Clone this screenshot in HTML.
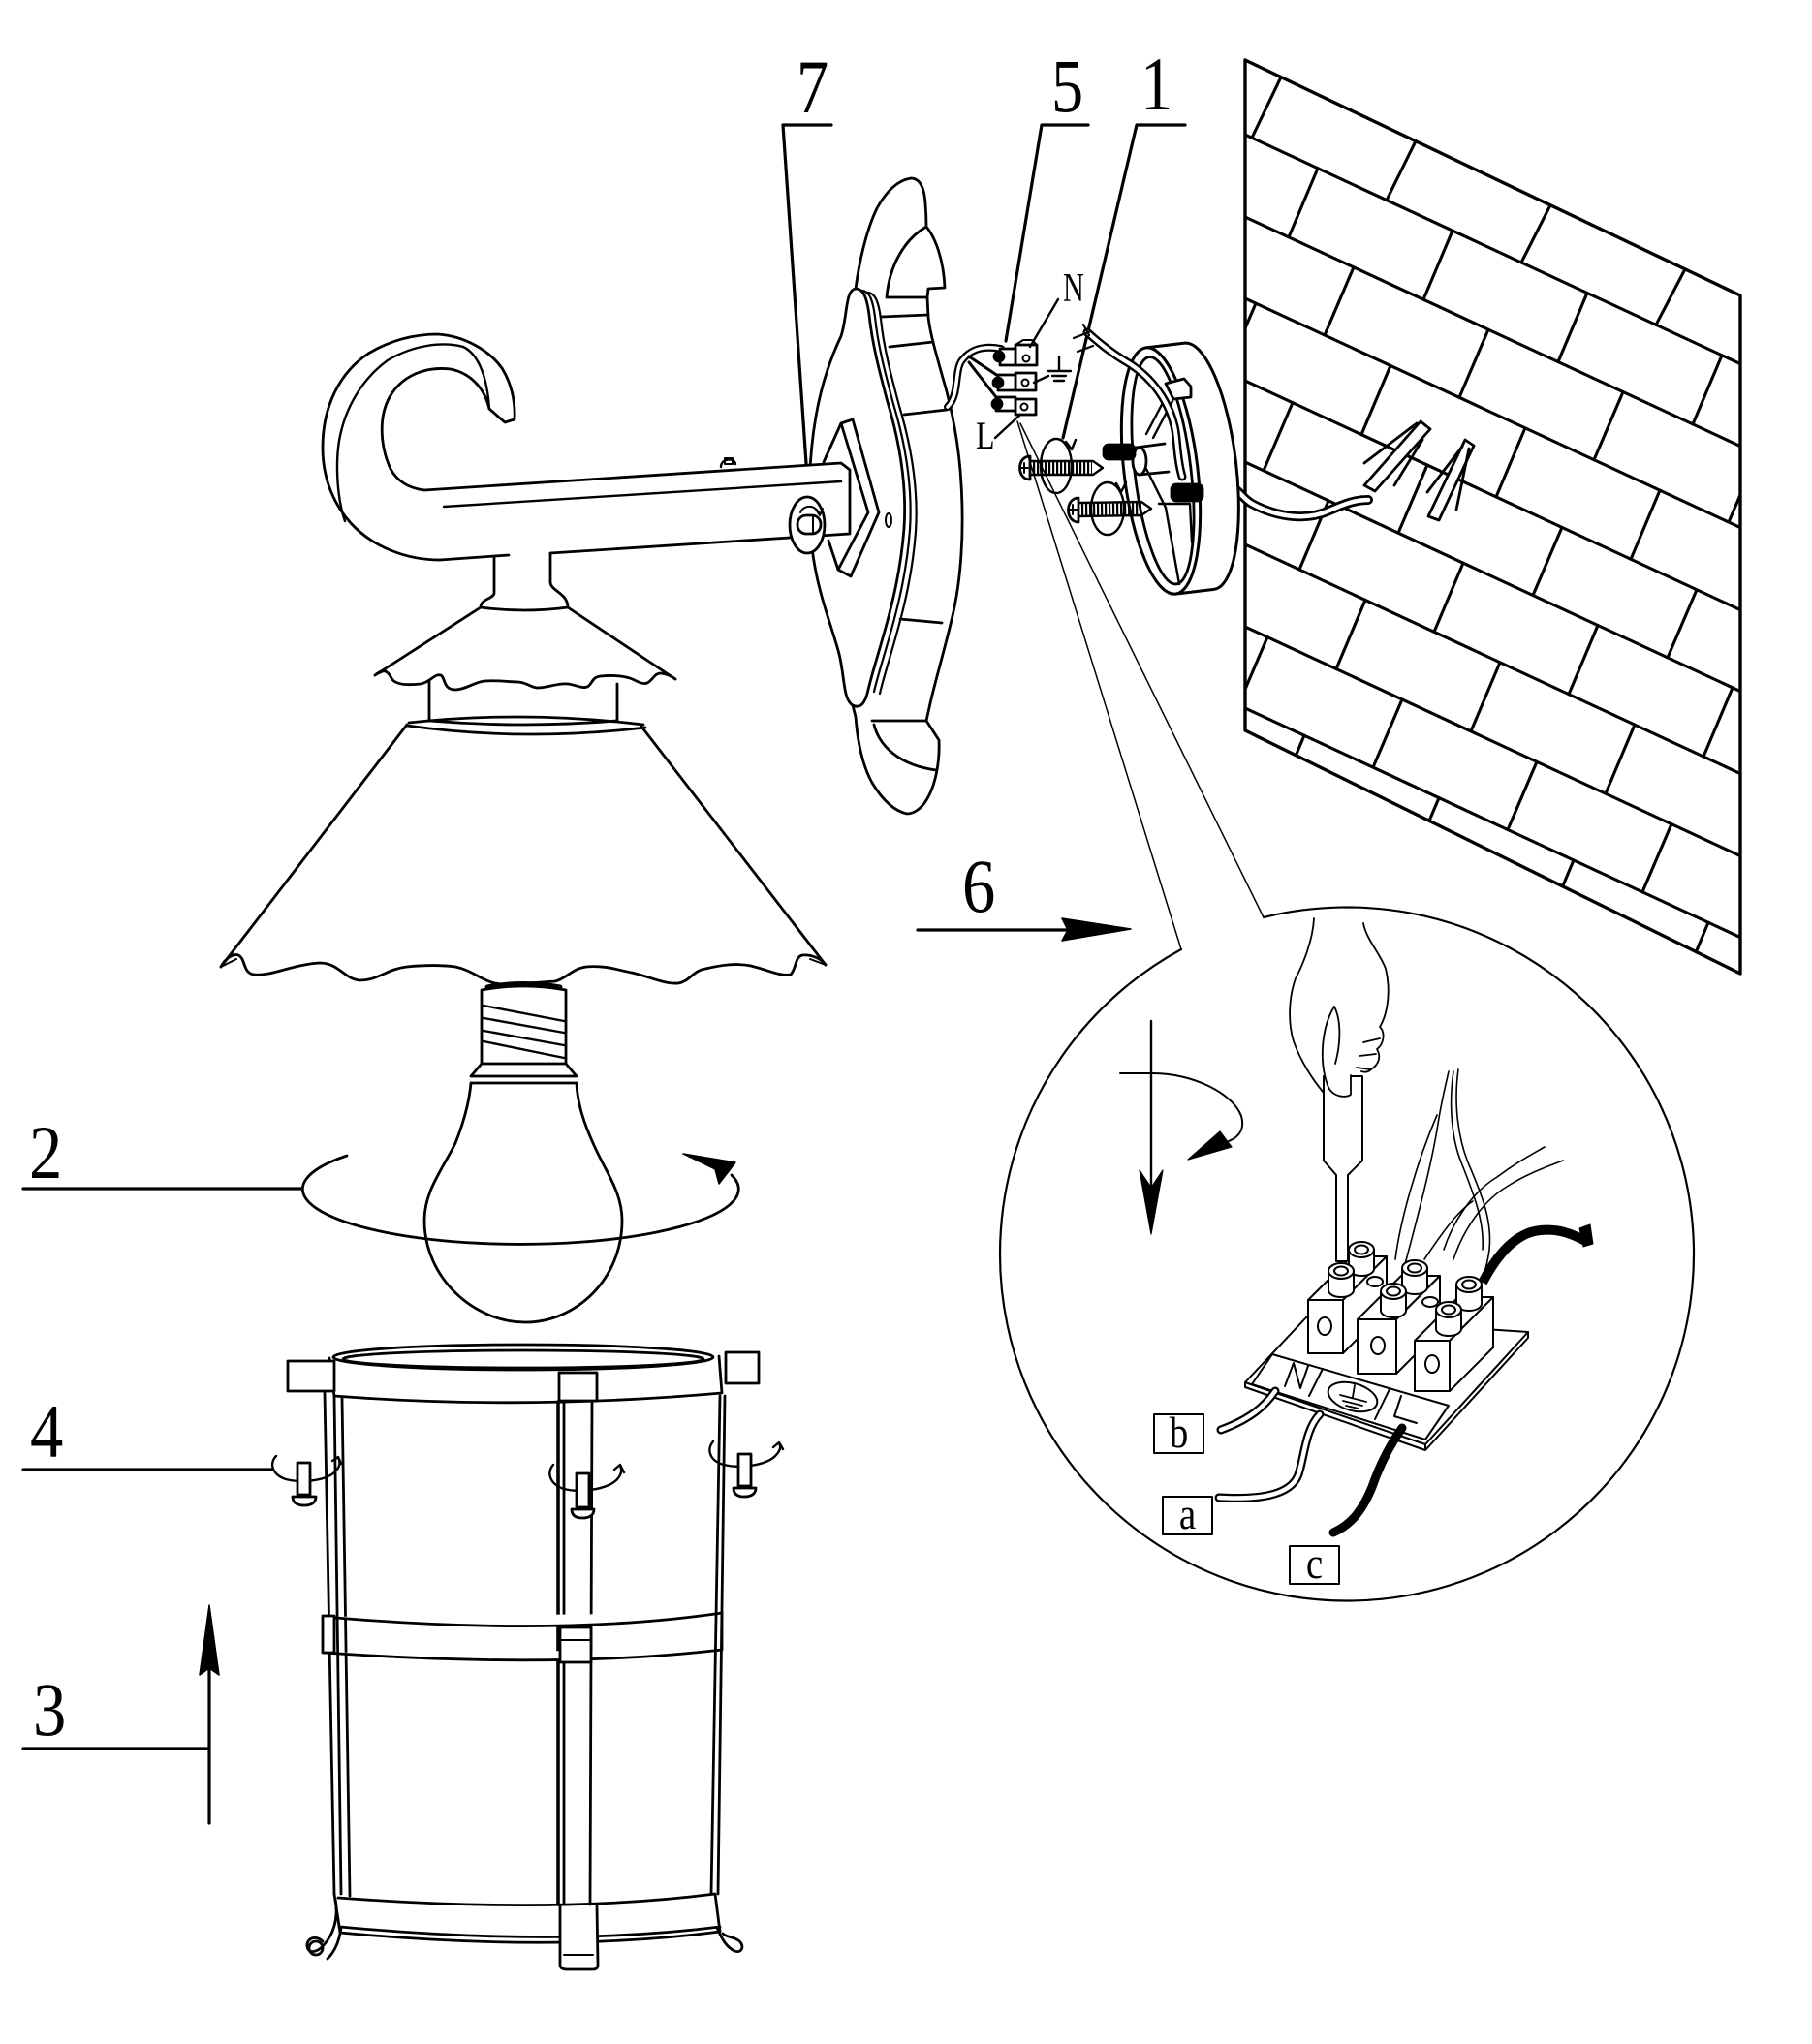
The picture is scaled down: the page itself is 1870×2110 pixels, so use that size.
<!DOCTYPE html>
<html><head><meta charset="utf-8">
<style>
html,body{margin:0;padding:0;background:#fff;}
svg{display:block;}
text{font-family:"Liberation Serif","DejaVu Serif",serif;fill:#000;stroke:none;}
</style></head><body>
<svg xmlns="http://www.w3.org/2000/svg" width="1870" height="2110" viewBox="0 0 1870 2110">
<defs>
<clipPath id="wc"><polygon points="1285,62 1796,305 1796,1005 1285,754"/></clipPath>
</defs>
<rect width="1870" height="2110" fill="#fff"/>
<g fill="none" stroke="#000" stroke-width="2.8" stroke-linecap="round" stroke-linejoin="round">

<!-- ===== Labels ===== -->
<text font-size="78" transform="translate(822,116) scale(0.85,1)">7</text>
<text font-size="78" transform="translate(1085,115) scale(0.85,1)">5</text>
<text font-size="78" transform="translate(1177,113) scale(0.85,1)">1</text>
<text font-size="78" transform="translate(30,1216) scale(0.88,1)">2</text>
<text font-size="78" transform="translate(31,1504) scale(0.88,1)">4</text>
<text font-size="78" transform="translate(34,1791) scale(0.88,1)">3</text>
<text font-size="78" transform="translate(993,941) scale(0.88,1)">6</text>

<g stroke-width="3.2">
<path d="M858,129 L808,129 L835,522"/>
<path d="M1123,129 L1075,129 L1038,352"/>
<path d="M1223,129 L1173,129 L1097,452"/>
<path d="M24,1227 L311,1227"/>
<path d="M24,1517 L281,1517"/>
<path d="M24,1805 L216,1805 M216,1882 L216,1715"/>
<path d="M947,960 L1100,960"/>
</g>
<polygon points="216,1657 206,1729 216,1722 226,1729" fill="#000" stroke-width="1.5"/>
<polygon points="1096,948 1167,959 1096,971 1102,960" fill="#000" stroke-width="1.5"/>

<!-- ===== Wall ===== -->
<polygon points="1285,62 1796,305 1796,1005 1285,754" stroke-width="3.4"/>
<g clip-path="url(#wc)" stroke-width="3.1">
<path d="M1285,139 L1796,375.6 M1285,224 L1796,460.6 M1285,308 L1796,544.6 M1285,393 L1796,629.6 M1285,477 L1796,713.6 M1285,562 L1796,798.6 M1285,647 L1796,883.6 M1285,731 L1796,967.6"/>
<path d="M1322,79.6 L1292,142.2 M1461,145.7 L1431,206.6 M1600,211.8 L1570,271 M1739,277.9 L1709,335.3"/>
<path d="M1360,173.7 L1330,244.8 M1499,238.1 L1469,309.2 M1638,302.4 L1608,373.5 M1777,366.8 L1747,437.9"/>
<path d="M1397,275.9 L1367,346 M1536,340.2 L1506,410.3 M1675,404.6 L1645,474.7 M1814,468.9 L1784,539"/>
<path d="M1296,313.1 L1266,383.6 M1435,377.5 L1405,448.6 M1574,441.8 L1544,512.9 M1713,506.2 L1683,577.3"/>
<path d="M1334,415.7 L1304,485.8 M1473,480 L1443,550.2 M1612,544.4 L1582,614.5 M1751,608.8 L1721,678.9"/>
<path d="M1371,516.8 L1341,587.9 M1510,581.2 L1480,652.3 M1649,645.5 L1619,716.6 M1788,709.9 L1758,781"/>
<path d="M1409,619.4 L1379,690.5 M1548,683.8 L1518,754.9 M1687,748.1 L1657,819.2"/>
<path d="M1308,657.6 L1278,727.8 M1447,722 L1417,792.1 M1586,786.4 L1556,856.5 M1725,850.7 L1695,920.8"/>
<path d="M1346,759.2 L1337.4,779.7 M1485,823.6 L1475,847.3 M1624,887.9 L1612.7,914.9 M1763,952.3 L1750.3,982.6"/>
</g>

<!-- cable into wall -->
<path d="M1276,506 C1282,511 1285,516 1292,520 C1320,535 1350,537 1372,527 C1390,519 1400,516 1412,516" stroke-width="10"/>
<path d="M1276,506 C1282,511 1285,516 1292,520 C1320,535 1350,537 1372,527 C1390,519 1400,516 1412,516" stroke="#fff" stroke-width="4.5"/>
<!-- wall plugs -->
<polygon points="1408,501 1419,507 1476,443 1466,435" fill="#fff"/>
<path d="M1408,478 L1462,437 M1439,501 L1468,454"/>
<polygon points="1474,533 1485,537 1521,460 1512,454" fill="#fff"/>
<path d="M1473,508 L1509,461 M1503,526 L1516,463"/>

<!-- ===== Ceiling plate (drum) ===== -->
<g transform="rotate(-6.8 1198 486)">
<path d="M1198,358 L1238,358 A38,128 0 0 1 1238,614 L1198,614" fill="#fff" stroke-width="3"/>
<ellipse cx="1198" cy="486" rx="38" ry="128" fill="#fff" stroke-width="3"/>
<ellipse cx="1200" cy="486" rx="29" ry="118"/>
</g>
<path d="M1183,448 L1203,410 M1190,452 L1210,414 M1183,484 L1203,524 L1217,603 M1196,520 L1228,520 L1230,560" stroke-width="2.4"/>
<path d="M1203,396 L1222,391 L1229,399 L1229,410 L1211,412 Z" fill="#fff"/>
<path d="M1172,462 L1202,458 M1176,490 L1206,487"/>
<ellipse cx="1176" cy="476" rx="7" ry="14" fill="#fff"/>
<rect x="1139" y="459" width="32" height="15" rx="5" fill="#000"/>
<rect x="1209" y="500" width="32" height="17" rx="5" fill="#000"/>
<!-- cable drum to terminal -->
<path d="M1220,492 C1214,472 1215,450 1212,440 C1205,410 1185,386 1160,372 C1145,363 1132,352 1122,343" stroke-width="9"/>
<path d="M1220,492 C1214,472 1215,450 1212,440 C1205,410 1185,386 1160,372 C1145,363 1132,352 1122,343" stroke="#fff" stroke-width="4"/>
<path d="M1108,349 L1126,342 M1112,363 L1128,357 M1118,335 L1124,346" stroke-width="2.2"/>

<!-- screws -->
<ellipse cx="1090" cy="481" rx="16" ry="28" stroke-width="2.4"/>
<path d="M1100,456 L1106,464 L1110,454" stroke-width="2.4"/>
<ellipse cx="1143" cy="525" rx="17" ry="27" stroke-width="2.4"/>
<path d="M1152,499 L1157,508 L1162,498" stroke-width="2.4"/>
<path d="M1066,483 L1127,483" stroke-width="14" stroke-dasharray="2.2 1.8" stroke-linecap="butt"/>
<path d="M1063,476 L1128,476 L1138,483 L1128,490 L1063,490" stroke-width="2.4"/>
<path d="M1063,471 C1049,471 1049,495 1063,495 Z" fill="#fff"/>
<path d="M1054,483 L1061,483 M1057,478 L1057,488" stroke-width="2"/>
<path d="M1116,526 L1178,525" stroke-width="14" stroke-dasharray="2.2 1.8" stroke-linecap="butt"/>
<path d="M1113,519 L1178,518 L1188,525 L1178,532 L1113,533" stroke-width="2.4"/>
<path d="M1113,514 C1099,514 1099,539 1113,539 Z" fill="#fff"/>
<path d="M1104,526 L1111,526 M1107,521 L1107,531" stroke-width="2"/>

<!-- ===== Backplate (7) ===== -->
<path d="M883,298 C886,275 893,240 905,215 C915,197 927,186 940,184 C950,184 954,195 955,210 C956,222 956,230 956,234 C966,246 974,270 975,297 L958,298 L957,307 L958,327 C960,345 966,365 973,390 C982,420 990,460 992,500 C995,550 992,600 982,640 C975,670 966,700 960,726 L956,744 L969,764 C970,785 966,810 956,826 C950,836 942,840 936,840 C925,838 912,828 900,808 C890,790 885,765 883,740 L880,728" fill="#fff"/>
<path d="M956,234 C935,246 918,272 915,307 L957,307"/>
<path d="M910,327 L958,325 M918,358 L963,353 M933,428 L977,423 M929,639 L972,643 M900,744 L956,744 M902,748 C908,772 930,790 966,795"/>
<path d="M883,298 C872,300 875,325 868,347 C858,368 848,395 842,430 C835,470 833,520 838,565 C843,610 858,645 866,675 C872,700 870,722 880,728 C888,732 893,726 896,712 C900,695 905,680 912,655 C922,620 930,585 933,545 C936,500 928,455 916,415 C908,385 900,355 897,325 C895,310 892,298 883,298 Z" fill="#fff"/>
<path d="M883,298 C892,298 895,310 897,325 C900,355 908,385 916,415 C928,455 936,500 933,545 C930,585 922,620 912,655 C905,680 900,695 896,712" transform="translate(6,2)" stroke-width="2.2"/>
<path d="M883,298 C892,298 895,310 897,325 C900,355 908,385 916,415 C928,455 936,500 933,545 C930,585 922,620 912,655 C905,680 900,695 896,712" transform="translate(12,4)" stroke-width="2.2"/>
<ellipse cx="917" cy="537" rx="3" ry="7" stroke-width="2"/>
<!-- chevron -->
<path d="M850,477 L868,437 M855,558 L865,588"/>
<polygon points="868,437 880,433 907,529 878,595 865,588 896,529" fill="#fff"/>

<!-- ===== Arm & hook ===== -->
<polygon points="700,489 868,478 877,485 877,551 700,562" fill="#fff" stroke="none"/>
<path d="M438,506 L868,478 L877,485 L877,551 L568,571"/>
<path d="M458,523 L868,497" stroke-width="2.4"/>
<path d="M454,578 L525,573"/>
<path d="M454,578 C420,578 385,565 362,540 C342,518 333,490 333,462 C333,420 350,385 380,365 C405,350 430,345 452,345 C480,347 505,362 518,380 C528,396 532,415 531,433 L521,436 L505,422"/>
<path d="M505,422 C500,400 485,385 465,381 C440,378 415,387 402,410 C390,432 393,462 403,484 C410,497 422,504 438,506"/>
<path d="M356,538 C348,515 346,480 350,455 C356,420 375,390 400,372 C425,357 455,352 478,358 C495,366 503,392 505,422" stroke-width="2.4"/>
<path d="M744,482 C744,473 758,472 759,479" stroke-width="2.4"/>
<rect x="748" y="473" width="8" height="6" stroke-width="2"/>
<!-- knob -->
<ellipse cx="833" cy="542" rx="18" ry="29" fill="#fff"/>
<rect x="823" y="532" width="24" height="19" rx="9" fill="#fff"/>
<path d="M839,532 L839,551" stroke-width="2"/>
<path d="M826,529 C830,520 842,521 846,531 M842,526 L846,532 L849,525" stroke-width="2"/>

<!-- stem & small shade -->
<path d="M510,576 L510,612 C510,618 496,618 496,627 M568,572 L568,601 C568,610 586,612 586,627 M496,627 Q541,633 586,627"/>
<path d="M496,627 L387,697 M586,627 L697,701"/>
<path d="M387,697 C395,690 400,692 404,700 C408,708 425,707 434,706 C445,704 448,695 455,697 C460,700 457,712 470,712 C480,712 490,704 500,703 C515,702 525,704 535,704 C545,705 548,710 555,710 C565,710 575,705 586,706 C595,707 600,711 606,709 C612,706 610,699 620,698 C630,697 640,697 650,700 C658,703 662,707 668,705 C674,702 675,695 682,695 C690,696 694,699 697,701"/>
<path d="M387,697 L398,692 M697,701 L684,694" stroke-width="2"/>
<path d="M443,704 L443,744 M637,706 L637,744"/>
<path d="M422,746 Q541,733 664,748 M420,749 Q541,766 666,751 M443,744 Q540,752 637,744"/>

<!-- big shade -->
<path d="M420,748 L228,998 M662,750 L852,996"/>
<path d="M228,998 C232,990 240,984 246,986 C254,990 250,1004 262,1006 C280,1008 300,996 330,994 C350,994 355,1011 372,1012 C390,1012 400,1000 420,998 C440,996 455,996 470,998 C490,1002 500,1016 520,1016 C540,1016 555,1014 573,1013 C585,1010 590,1000 605,998 C625,996 640,1002 652,1004 C670,1008 685,1016 700,1015 C712,1013 715,1002 728,1000 C745,996 760,994 775,997 C795,1002 805,1008 816,1006 C822,1000 820,988 828,986 C838,985 848,990 852,996"/>
<path d="M228,998 L244,990 M852,996 L836,990" stroke-width="2"/>

<!-- ===== Bulb ===== -->
<path d="M497,1098 L497,1022 Q540,1014 584,1022 L584,1098"/>
<path d="M503,1019 Q540,1012 578,1019" stroke-width="5"/>
<path d="M499,1038 L582,1054 M499,1051 L582,1066 M499,1064 L582,1079 M499,1075 L582,1092" stroke-width="2.4"/>
<path d="M497,1098 L486,1111 L595,1111 L584,1098 M486,1118 L595,1118 M497,1098 L584,1098"/>
<path d="M486,1118 C484,1140 478,1160 470,1180 C455,1210 438,1230 438,1260 C438,1320 490,1365 542,1365 C595,1365 642,1320 642,1260 C642,1230 625,1210 612,1180 C603,1160 596,1140 595,1118"/>
<path d="M358,1193 A225,57 0 1 0 755,1213"/>
<polygon points="705,1191 759,1200 742,1222 738,1207" fill="#000" stroke-width="1.5"/>

<!-- ===== Lantern ===== -->
<ellipse cx="540" cy="1401" rx="196" ry="13" fill="#fff"/>
<ellipse cx="540" cy="1403" rx="186" ry="9"/>
<path d="M340,1402 L345,1441 Q540,1456 745,1438 L742,1400"/>
<rect x="297" y="1405" width="48" height="31" fill="#fff"/>
<rect x="749" y="1396" width="34" height="32" fill="#fff"/>
<rect x="577" y="1417" width="39" height="29" fill="#fff"/>
<path d="M335,1438 L345,1955 M345,1441 L352,1955 M353,1443 L361,1957"/>
<path d="M576,1447 L576,1966" stroke-width="3.6"/>
<path d="M582,1447 L582,1966 M611,1447 L609,1966"/>
<path d="M743,1441 L734,1955 M748,1441 L741,1955"/>
<!-- middle band -->
<path d="M335,1669 Q575,1690 745,1665 M335,1706 Q575,1723 745,1703 M745,1665 L745,1703" fill="#fff"/>
<rect x="333" y="1668" width="12" height="38" fill="#fff"/>
<rect x="578" y="1680" width="32" height="36" fill="#fff"/>
<path d="M578,1693 L610,1693" stroke-width="2"/>
<!-- bottom band -->
<path d="M349,1959 Q575,1976 738,1955 M351,1989 Q575,2010 743,1989 M351,1995 Q575,2016 743,1994 M345,1955 L351,1995 M738,1955 L743,1994"/>
<!-- feet -->
<path d="M346,1960 C350,1982 343,1998 334,2008 C328,2015 318,2018 317,2009 C316,2001 326,1997 333,2004 M352,1990 C350,2005 345,2015 338,2022"/>
<circle cx="326" cy="2011" r="7"/>
<path d="M578,1968 L578,2028 Q578,2033 585,2033 L612,2033 Q617,2033 617,2028 L616,1968" fill="#fff"/>
<path d="M582,2018 L612,2018" stroke-width="2"/>
<path d="M740,1990 C745,2002 750,2010 758,2014 C766,2017 769,2008 762,2003 C756,1999 750,2000 746,1996"/>
<!-- screws 4 -->
<path d="M285,1503 C278,1510 280,1522 295,1527 C310,1531 335,1529 345,1520 C352,1514 351,1508 349,1505 M343,1508 L349,1504 L352,1511" stroke-width="2.4"/>
<rect x="307" y="1510" width="13" height="33" fill="#fff"/>
<path d="M302,1545 L326,1545 C326,1552 320,1554 314,1554 C308,1554 302,1552 302,1545 Z" fill="#fff"/>
<path d="M571,1512 C564,1520 567,1532 582,1537 C598,1541 625,1538 636,1528 C642,1522 642,1517 640,1513 M634,1517 L640,1512 L644,1520" stroke-width="2.4"/>
<rect x="595" y="1521" width="13" height="35" fill="#fff"/>
<path d="M590,1558 L613,1558 C613,1565 607,1567 601,1567 C595,1567 590,1565 590,1558 Z" fill="#fff"/>
<path d="M736,1488 C729,1496 732,1508 747,1512 C763,1516 790,1513 800,1503 C806,1497 806,1493 804,1490 M798,1494 L804,1489 L808,1496" stroke-width="2.4"/>
<rect x="762" y="1501" width="13" height="33" fill="#fff"/>
<path d="M757,1536 L780,1536 C780,1543 774,1545 768,1545 C762,1545 757,1543 757,1536 Z" fill="#fff"/>

<!-- ===== Small terminal block (5) ===== -->
<path d="M1033,360 C1012,356 1000,362 992,373 C985,385 990,408 978,420" stroke-width="8"/>
<path d="M1033,360 C1012,356 1000,362 992,373 C985,385 990,408 978,420" stroke="#fff" stroke-width="3.5"/>
<path d="M1000,368 L1030,388 M1000,374 L1028,410" stroke-width="3"/>
<rect x="1048" y="356" width="22" height="21" fill="#fff"/>
<rect x="1048" y="385" width="21" height="18" fill="#fff"/>
<rect x="1048" y="412" width="21" height="16" fill="#fff"/>
<rect x="1032" y="360" width="16" height="17" fill="#fff"/>
<rect x="1030" y="387" width="18" height="16" fill="#fff"/>
<rect x="1028" y="410" width="20" height="14" fill="#fff"/>
<circle cx="1031" cy="368" r="5" fill="#000"/>
<circle cx="1030" cy="395" r="5" fill="#000"/>
<circle cx="1029" cy="417" r="5" fill="#000"/>
<circle cx="1059" cy="370" r="3.5" stroke-width="2"/>
<circle cx="1058" cy="395" r="3.5" stroke-width="2"/>
<circle cx="1057" cy="420" r="3.5" stroke-width="2"/>
<path d="M1048,356 L1056,351 L1065,351 L1070,356" stroke-width="2"/>
<text font-size="42" transform="translate(1097,311) scale(0.72,1)">N</text>
<text font-size="40" transform="translate(1007,463) scale(0.8,1)">L</text>
<path d="M1092,309 L1063,358 M1027,452 L1053,428" stroke-width="2.4"/>
<path d="M1093,368 L1093,383 M1082,383 L1105,383 M1086,388 L1100,388 M1088,393 L1098,393 M1067,395 L1082,388" stroke-width="2.4"/>

<!-- ===== Detail circle ===== -->
<path d="M1050,435 L1219,980 M1053,437 L1304,947" stroke-width="1.5"/>
<path d="M1304,947 A358,358 0 1 1 1219,980" stroke-width="2.2"/>

<!-- rotation arrows -->
<path d="M1188,1054 L1188,1240" stroke-width="2.4"/>
<polygon points="1176,1208 1188,1274 1200,1208 1188,1226" fill="#000" stroke-width="1.2"/>
<path d="M1156,1108 L1190,1108 C1230,1108 1272,1128 1281,1152 C1285,1166 1278,1174 1268,1178" stroke-width="2"/>
<polygon points="1226,1197 1259,1168 1271,1184" fill="#000" stroke-width="1.2"/>

<!-- screwdriver + hand -->
<path d="M1366,1111 L1406,1111 L1406,1198 L1391,1213 L1391,1302 L1379,1302 L1379,1213 L1366,1198 Z" fill="#fff" stroke-width="2"/>
<g stroke-width="1.8">
<path d="M1356,948 C1355,970 1345,995 1337,1010 C1330,1030 1329,1055 1335,1075 C1342,1095 1355,1115 1366,1128"/>
<path d="M1407,953 C1410,970 1425,985 1430,1000 C1435,1020 1433,1045 1424,1060 C1430,1066 1428,1078 1421,1083 C1425,1090 1424,1098 1415,1104 C1412,1107 1408,1107 1405,1106"/>
<path d="M1407,1076 L1424,1072 M1403,1090 L1420,1088 M1400,1102 L1414,1104"/>
<path d="M1377,1039 C1364,1060 1361,1095 1370,1120 C1374,1132 1388,1134 1394,1130 L1394,1110" fill="#fff"/>
<path d="M1377,1039 C1385,1055 1383,1080 1378,1098"/>
</g>

<!-- wires behind terminal -->
<g stroke-width="1.6">
<path d="M1440,1300 C1445,1260 1462,1200 1483,1151"/>
<path d="M1450,1305 C1462,1260 1478,1200 1484,1160 C1488,1135 1492,1120 1495,1106"/>
<path d="M1505,1104 C1500,1140 1505,1175 1515,1200 C1530,1235 1540,1260 1537,1290 C1535,1305 1532,1315 1528,1322"/>
<path d="M1500,1106 C1495,1140 1498,1175 1508,1200 C1522,1235 1532,1262 1530,1290"/>
<path d="M1490,1290 C1500,1260 1520,1230 1545,1215 C1565,1200 1580,1192 1594,1184"/>
<path d="M1500,1300 C1510,1270 1530,1240 1555,1225 C1575,1212 1595,1205 1613,1198"/>
<path d="M1470,1300 C1490,1270 1505,1250 1520,1240"/>
</g>
<path d="M1530,1324 C1545,1295 1565,1272 1590,1270 C1610,1268 1625,1275 1638,1282" stroke-width="10" stroke-linecap="butt"/>
<polygon points="1630,1268 1641,1264 1644,1284 1634,1287" fill="#000" stroke-width="1"/>

<!-- terminal base plate & strip -->
<polygon points="1285,1427 1348,1360 1577,1375 1471,1491" fill="#fff" stroke-width="2"/>
<path d="M1285,1427 L1285,1432 L1471,1497 L1577,1381 L1577,1375 M1471,1491 L1471,1497" stroke-width="2"/>
<polygon points="1313,1398 1495,1451 1471,1486 1292,1429" stroke-width="2"/>
<path d="M1365,1413 L1351,1441 M1434,1434 L1419,1465" stroke-width="2"/>
<path d="M1326,1431 L1335,1407 L1342,1433 L1350,1410" stroke-width="2"/>
<ellipse cx="1396" cy="1442" rx="26" ry="14" transform="rotate(16 1396 1442)" stroke-width="2"/>
<path d="M1398,1430 L1396,1442 M1383,1440 L1410,1447 M1386,1446 L1406,1451 M1389,1451 L1402,1454" stroke-width="1.8"/>
<path d="M1446,1441 L1439,1462 L1462,1469" stroke-width="2"/>

<!-- blocks -->
<g stroke-width="2">
<polygon points="1350,1342 1386,1342 1431,1297 1395,1297" fill="#fff"/>
<polygon points="1386,1342 1431,1297 1431,1352 1386,1397" fill="#fff"/>
<rect x="1350" y="1342" width="36" height="55" fill="#fff"/>
<ellipse cx="1367" cy="1369" rx="7" ry="9"/>
<path d="M1392,1290 L1392,1310 A13,7 0 0 0 1418,1310 L1418,1290" fill="#fff"/>
<ellipse cx="1405" cy="1290" rx="13" ry="8" fill="#fff"/><ellipse cx="1405" cy="1290" rx="7" ry="4.5"/>
<path d="M1371,1312 L1371,1332 A13,7 0 0 0 1397,1332 L1397,1312" fill="#fff"/>
<ellipse cx="1384" cy="1312" rx="13" ry="8" fill="#fff"/><ellipse cx="1384" cy="1312" rx="7" ry="4.5"/>
<ellipse cx="1419" cy="1323" rx="8" ry="5"/>

<polygon points="1401,1362 1441,1362 1486,1317 1446,1317" fill="#fff"/>
<polygon points="1441,1362 1486,1317 1486,1373 1441,1418" fill="#fff"/>
<rect x="1401" y="1362" width="40" height="56" fill="#fff"/>
<ellipse cx="1422" cy="1389" rx="7" ry="9"/>
<path d="M1447,1309 L1447,1329 A13,7 0 0 0 1473,1329 L1473,1309" fill="#fff"/>
<ellipse cx="1460" cy="1309" rx="13" ry="8" fill="#fff"/><ellipse cx="1460" cy="1309" rx="7" ry="4.5"/>
<path d="M1425,1333 L1425,1353 A13,7 0 0 0 1451,1353 L1451,1333" fill="#fff"/>
<ellipse cx="1438" cy="1333" rx="13" ry="8" fill="#fff"/><ellipse cx="1438" cy="1333" rx="7" ry="4.5"/>
<ellipse cx="1476" cy="1344" rx="8" ry="5"/>

<polygon points="1460,1384 1496,1384 1541,1339 1505,1339" fill="#fff"/>
<polygon points="1496,1384 1541,1339 1541,1391 1496,1436" fill="#fff"/>
<rect x="1460" y="1384" width="36" height="52" fill="#fff"/>
<ellipse cx="1478" cy="1408" rx="7" ry="9"/>
<path d="M1503,1326 L1503,1346 A13,7 0 0 0 1529,1346 L1529,1326" fill="#fff"/>
<ellipse cx="1516" cy="1326" rx="13" ry="8" fill="#fff"/><ellipse cx="1516" cy="1326" rx="7" ry="4.5"/>
<path d="M1482,1352 L1482,1372 A13,7 0 0 0 1508,1372 L1508,1352" fill="#fff"/>
<ellipse cx="1495" cy="1352" rx="13" ry="8" fill="#fff"/><ellipse cx="1495" cy="1352" rx="7" ry="4.5"/>
</g>

<!-- wires b, a, c -->
<path d="M1316,1436 C1305,1452 1290,1465 1260,1476" stroke-width="9"/>
<path d="M1316,1436 C1305,1452 1290,1465 1260,1476" stroke="#fff" stroke-width="4.5"/>
<path d="M1362,1460 C1347,1475 1346,1505 1340,1522 C1332,1545 1296,1548 1258,1546" stroke-width="9"/>
<path d="M1362,1460 C1347,1475 1346,1505 1340,1522 C1332,1545 1296,1548 1258,1546" stroke="#fff" stroke-width="4.5"/>
<path d="M1447,1474 C1432,1495 1423,1515 1416,1535 C1405,1562 1392,1575 1376,1582" stroke-width="9"/>

<!-- label boxes -->
<rect x="1191" y="1460" width="51" height="40" fill="#fff" stroke-width="2"/>
<rect x="1200" y="1545" width="51" height="39" fill="#fff" stroke-width="2"/>
<rect x="1331" y="1596" width="51" height="39" fill="#fff" stroke-width="2"/>
<text font-size="46" text-anchor="middle" transform="translate(1216.5,1494) scale(0.85,1)">b</text>
<text font-size="46" text-anchor="middle" transform="translate(1225.5,1578) scale(0.85,1)">a</text>
<text font-size="46" text-anchor="middle" transform="translate(1356.5,1629) scale(0.85,1)">c</text>

</g>
</svg>
</body></html>
